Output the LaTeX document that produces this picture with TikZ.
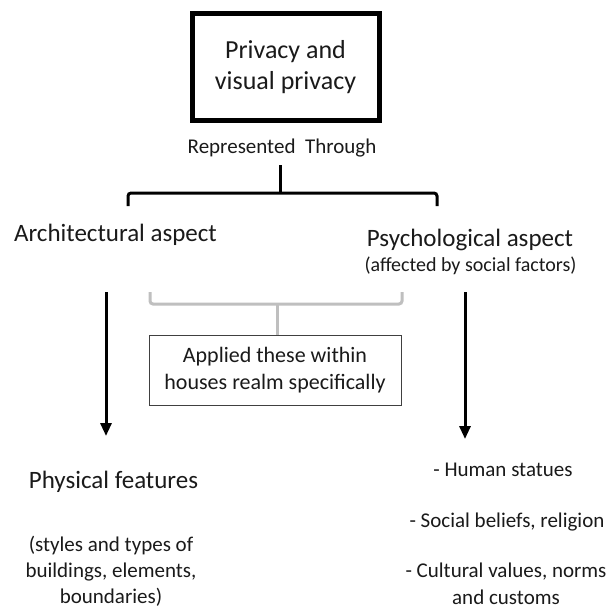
\documentclass[tikz,border=0pt]{standalone}
\usepackage{fontspec}
\setmainfont{Carlito}
\usetikzlibrary{arrows.meta}
\definecolor{ink}{HTML}{1A1A1A}
\definecolor{softgray}{HTML}{BFBFBF}
\definecolor{boxedge}{HTML}{404040}
\newcommand{\fs}[2]{\fontsize{#1}{#2}\selectfont}
\begin{document}
\begin{tikzpicture}[x=1pt,y=-1pt,
  txt/.style={inner sep=0pt,align=center,text=ink},
  titlebox/.style={draw=black,line width=5pt,minimum width=187pt,minimum height=106pt,inner sep=0pt,align=center,text=ink},
  notebox/.style={draw=boxedge,line width=0.9pt,minimum width=252pt,minimum height=70pt,inner sep=0pt,align=center,text=ink},
  brace/.style={line width=3pt,rounded corners=3pt},
  softbrace/.style={line width=3pt,softgray,rounded corners=3pt},
  downarrow/.style={line width=3pt,-{Triangle[width=11pt,length=13pt]}}]
\useasboundingbox (0,0) rectangle (610,610);
\fill[white] (0,0) rectangle (610,610);

% top concept
\node[titlebox,font=\fs{26}{31}] (title) at (285.5,67) {Privacy and\\visual privacy};
\node[txt,font=\fs{21}{25}] (rep) at (282,148) {Represented\ \ Through};

% black brace splitting into the two aspects
\coordinate (stemtop) at (280,165);
\coordinate (stemfoot) at (280,193);
\coordinate (bl) at (128,206);
\coordinate (br) at (437,206);
\draw[brace] (bl) |- (stemfoot) -| (br);
\draw[line width=3pt] (stemtop) -- (stemfoot);

\node[txt,font=\fs{25}{30}] (arch) at (115.5,235) {Architectural aspect};
\node[txt,font=\fs{25}{30}] (psych) at (470,240) {Psychological aspect};
\node[txt,font=\fs{20}{24}] (affect) at (470.5,266) {(affected by social factors)};

% arrows down to the outcomes
\coordinate (la1) at (106,292);
\coordinate (la2) at (106,436);
\coordinate (ra1) at (465,292);
\coordinate (ra2) at (465,439);
\draw[downarrow] (la1) -- (la2);
\draw[downarrow] (ra1) -- (ra2);

% grey brace joining both aspects into the note
\node[notebox,font=\fs{22}{27}] (note) at (275,370) {Applied these within\\houses realm specifically};
\coordinate (gl) at (150,292);
\coordinate (gr) at (402,292);
\coordinate (gmid) at (277,304);
\draw[softbrace] (gl) |- (gmid) -| (gr);
\draw[line width=3pt,softgray] (gmid) -- (gmid |- note.north);

% outcomes
\node[txt,font=\fs{25}{30}] (phys) at (113.5,482) {Physical features};
\node[txt,font=\fs{21}{26}] (physd) at (111,571) {(styles and types of\\buildings, elements,\\boundaries)};

\node[txt,font=\fs{21}{26}] (human) at (503,470) {- Human statues};
\node[txt,font=\fs{21}{26}] (social) at (507,522) {- Social beliefs, religion};
\node[txt,font=\fs{21}{27}] (culture) at (506,584) {- Cultural values, norms\\and customs};
\end{tikzpicture}
\end{document}
